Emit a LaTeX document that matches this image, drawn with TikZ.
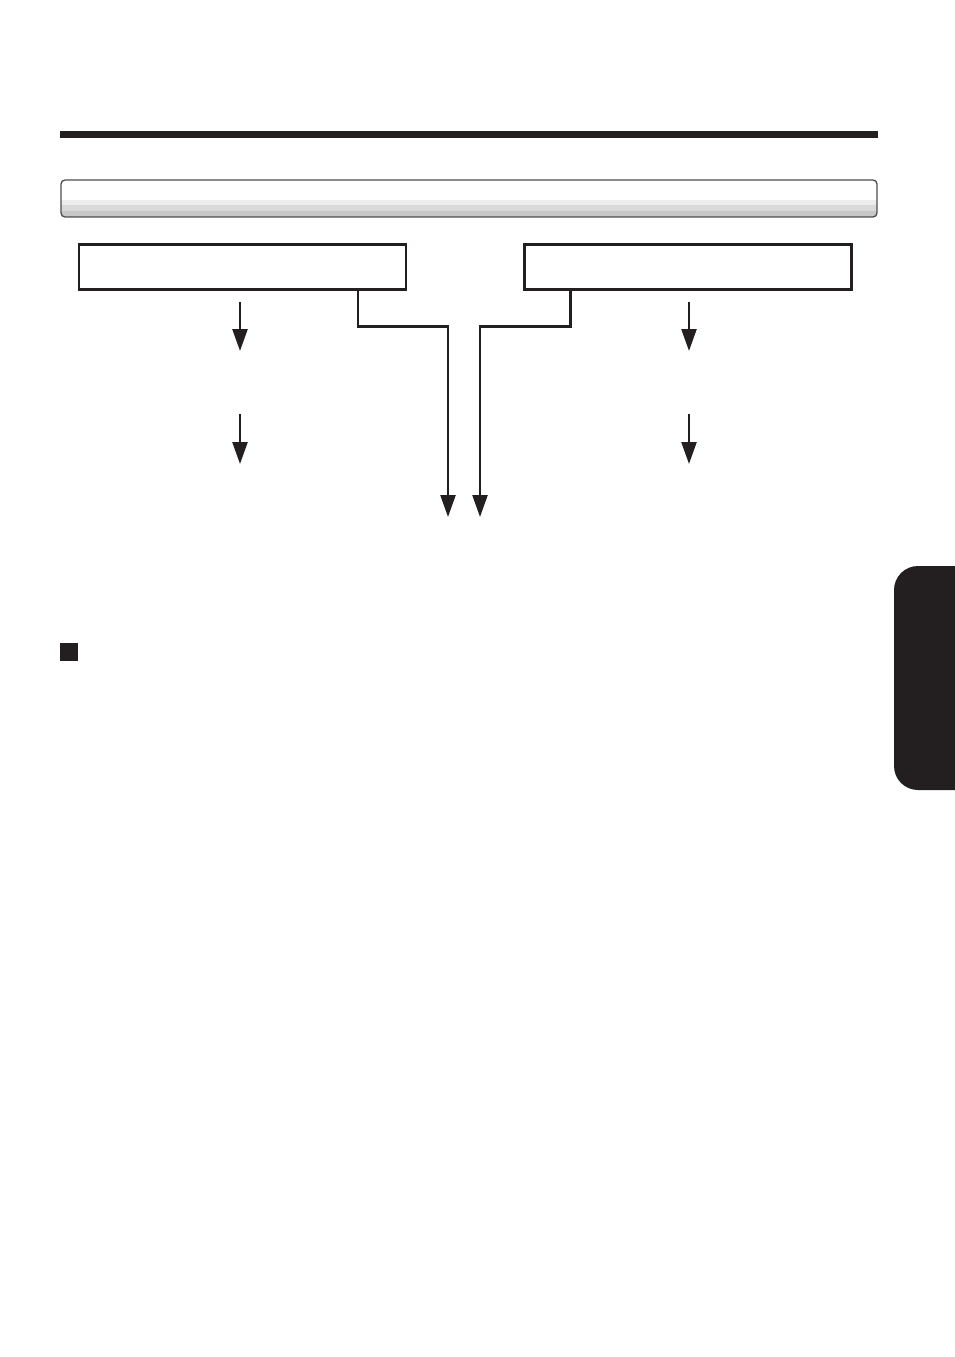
\documentclass[tikz,border=0pt]{standalone}
\usetikzlibrary{arrows.meta,calc}
\definecolor{ink}{HTML}{231F20}
\tikzset{
  flowbox/.style={draw=ink,line width=2.4pt,minimum width=327pt,minimum height=45pt,inner sep=0pt},
  flow/.style={draw=ink,line width=2.4pt,-{Triangle[length=22pt,width=15pt]}},
  plainline/.style={draw=ink,line width=2.4pt}
}
\begin{document}
\begin{tikzpicture}[x=1pt,y=-1pt]
\useasboundingbox (0,0) rectangle (954,1357);
% top rule
\fill[ink] (60,131) rectangle (878,137.5);
% header bar
\begin{scope}
  \clip[rounded corners=4pt] (61,180) rectangle (877,217);
  \fill[white] (61,180) rectangle (877,200);
  \fill[black!7] (61,200) rectangle (877,205);
  \fill[black!15] (61,205) rectangle (877,211);
  \fill[black!22] (61,211) rectangle (877,217);
\end{scope}
\draw[ink!80,line width=1.3pt,rounded corners=4pt] (61,180) rectangle (877,217);
% boxes
\node[flowbox] (lb) at (242.5,267) {};
\node[flowbox] (rb) at (688,267) {};
% merge connectors
\coordinate (lend) at (448,517);
\coordinate (rend) at (480,517);
\draw[flow] ($(lb.south west)+(280,0)$) |- (448,326.5) -- (lend);
\draw[flow] ($(rb.south west)+(47,0)$) |- (480,326.5) -- (rend);
% short arrows
\coordinate (la1) at (240,302); \coordinate (la2) at (240,351);
\coordinate (la3) at (240,414); \coordinate (la4) at (240,464);
\coordinate (ra1) at (689,302); \coordinate (ra2) at (689,351);
\coordinate (ra3) at (689,414); \coordinate (ra4) at (689,464);
\draw[flow] (la1) -- (la2);
\draw[flow] (la3) -- (la4);
\draw[flow] (ra1) -- (ra2);
\draw[flow] (ra3) -- (ra4);
% square bullet
\fill[ink] (60,643) rectangle (78,661);
% side tab
\fill[ink,rounded corners=24pt] (894,566) rectangle (990,790);
\end{tikzpicture}
\end{document}
